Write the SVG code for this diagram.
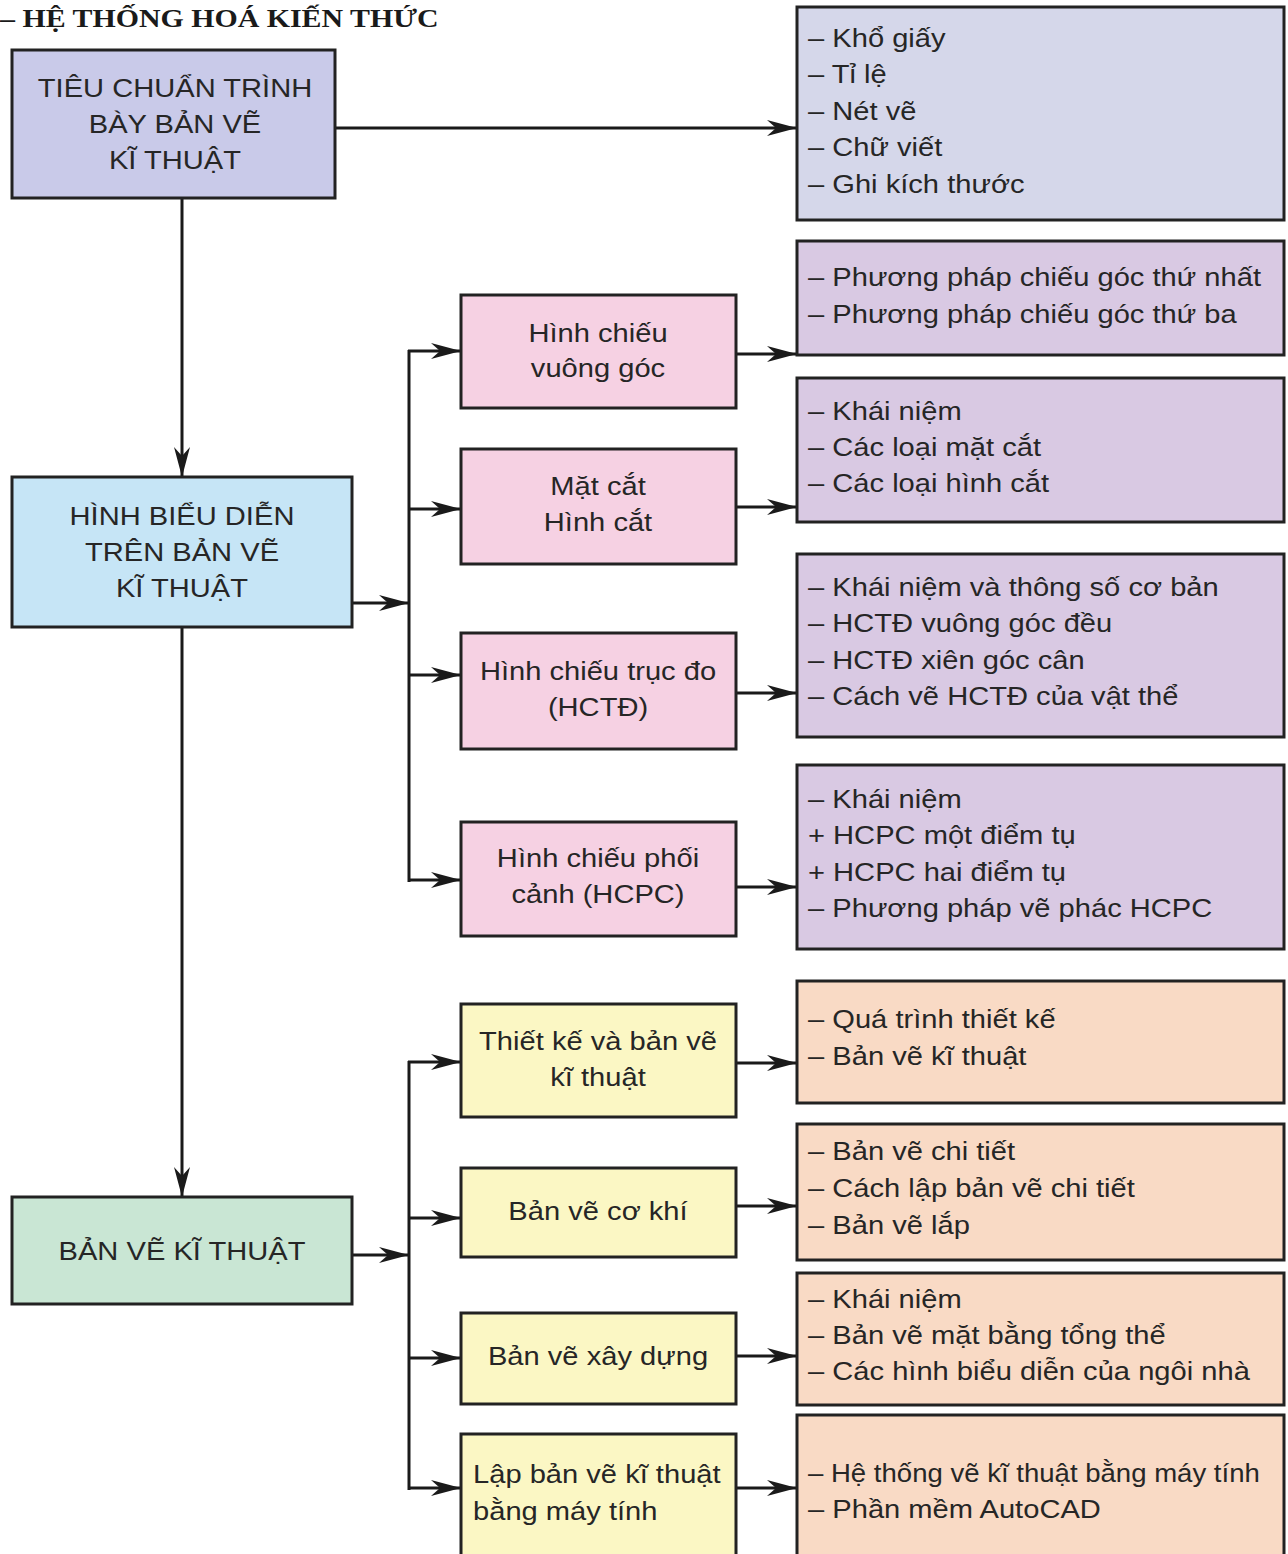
<svg xmlns="http://www.w3.org/2000/svg" width="1288" height="1554" viewBox="0 0 1288 1554">
<style>
.box{stroke:#222;stroke-width:3}
.t{font-family:"Liberation Sans",Arial,sans-serif;font-size:26px;fill:#262626}
.c{text-anchor:middle}
.hdr{font-family:"Liberation Serif","Times New Roman",serif;font-size:26px;font-weight:bold;fill:#1a1a1a}
.ln{stroke:#1a1a1a;stroke-width:3;fill:none}
.f1{fill:#c9cae9}.fr1{fill:#d5d7ea}.f2{fill:#c6e5f6}.f3{fill:#c9e6d4}
.pk{fill:#f6d1e3}.pu{fill:#d9c9e3}.ye{fill:#fbf7c4}.pe{fill:#f9dac5}
</style>
<defs>
<marker id="ah" markerUnits="userSpaceOnUse" markerWidth="32" markerHeight="18" refX="30" refY="9" orient="auto">
<path d="M0,1 L30,9 L0,17 L9,9 Z" fill="#1a1a1a"/>
</marker>
</defs>
<rect width="1288" height="1554" fill="#ffffff"/>
<text class="hdr" transform="translate(0 27) scale(1.15 1)">– HỆ THỐNG HOÁ KIẾN THỨC</text>

<g id="connectors">
<line class="ln" x1="335" y1="128" x2="797" y2="128" marker-end="url(#ah)"/>
<line class="ln" x1="182" y1="198" x2="182" y2="477" marker-end="url(#ah)"/>
<line class="ln" x1="182" y1="627" x2="182" y2="1197" marker-end="url(#ah)"/>
<line class="ln" x1="352" y1="603" x2="409" y2="603" marker-end="url(#ah)"/>
<line class="ln" x1="409" y1="350" x2="409" y2="882"/>
<line class="ln" x1="408" y1="351" x2="461" y2="351" marker-end="url(#ah)"/>
<line class="ln" x1="408" y1="509" x2="461" y2="509" marker-end="url(#ah)"/>
<line class="ln" x1="408" y1="675" x2="461" y2="675" marker-end="url(#ah)"/>
<line class="ln" x1="408" y1="880" x2="461" y2="880" marker-end="url(#ah)"/>
<line class="ln" x1="736" y1="354" x2="797" y2="354" marker-end="url(#ah)"/>
<line class="ln" x1="736" y1="507" x2="797" y2="507" marker-end="url(#ah)"/>
<line class="ln" x1="736" y1="693" x2="797" y2="693" marker-end="url(#ah)"/>
<line class="ln" x1="736" y1="887" x2="797" y2="887" marker-end="url(#ah)"/>
<line class="ln" x1="352" y1="1255" x2="409" y2="1255" marker-end="url(#ah)"/>
<line class="ln" x1="409" y1="1061" x2="409" y2="1490"/>
<line class="ln" x1="408" y1="1062" x2="461" y2="1062" marker-end="url(#ah)"/>
<line class="ln" x1="408" y1="1218" x2="461" y2="1218" marker-end="url(#ah)"/>
<line class="ln" x1="408" y1="1358" x2="461" y2="1358" marker-end="url(#ah)"/>
<line class="ln" x1="408" y1="1488" x2="461" y2="1488" marker-end="url(#ah)"/>
<line class="ln" x1="736" y1="1063" x2="797" y2="1063" marker-end="url(#ah)"/>
<line class="ln" x1="736" y1="1206" x2="797" y2="1206" marker-end="url(#ah)"/>
<line class="ln" x1="736" y1="1356" x2="797" y2="1356" marker-end="url(#ah)"/>
<line class="ln" x1="736" y1="1488" x2="797" y2="1488" marker-end="url(#ah)"/>
</g>

<g id="n-tieuchuan">
<rect class="box f1" x="12" y="50" width="323" height="148"/>
<text class="t c" transform="translate(175 97) scale(1.12 1)"><tspan x="0" y="0">TIÊU CHUẨN TRÌNH</tspan><tspan x="0" y="36">BÀY BẢN VẼ</tspan><tspan x="0" y="72">KĨ THUẬT</tspan></text>
</g>
<g id="n-hinhbieudien">
<rect class="box f2" x="12" y="477" width="340" height="150"/>
<text class="t c" transform="translate(182 525) scale(1.12 1)"><tspan x="0" y="0">HÌNH BIỂU DIỄN</tspan><tspan x="0" y="36">TRÊN BẢN VẼ</tspan><tspan x="0" y="72">KĨ THUẬT</tspan></text>
</g>
<g id="n-banve">
<rect class="box f3" x="12" y="1197" width="340" height="107"/>
<text class="t c" transform="translate(182 1260) scale(1.12 1)">BẢN VẼ KĨ THUẬT</text>
</g>

<g id="n-vuonggoc">
<rect class="box pk" x="461" y="295" width="275" height="113"/>
<text class="t c" transform="translate(598 342) scale(1.12 1)"><tspan x="0" y="0">Hình chiếu</tspan><tspan x="0" y="35">vuông góc</tspan></text>
</g>
<g id="n-matcat">
<rect class="box pk" x="461" y="449" width="275" height="115"/>
<text class="t c" transform="translate(598 495) scale(1.12 1)"><tspan x="0" y="0">Mặt cắt</tspan><tspan x="0" y="36">Hình cắt</tspan></text>
</g>
<g id="n-trucdo">
<rect class="box pk" x="461" y="633" width="275" height="116"/>
<text class="t c" transform="translate(598 680) scale(1.12 1)"><tspan x="0" y="0">Hình chiếu trục đo</tspan><tspan x="0" y="36">(HCTĐ)</tspan></text>
</g>
<g id="n-phoicanh">
<rect class="box pk" x="461" y="822" width="275" height="114"/>
<text class="t c" transform="translate(598 867) scale(1.12 1)"><tspan x="0" y="0">Hình chiếu phối</tspan><tspan x="0" y="36">cảnh (HCPC)</tspan></text>
</g>

<g id="n-thietke">
<rect class="box ye" x="461" y="1004" width="275" height="113"/>
<text class="t c" transform="translate(598 1050) scale(1.12 1)"><tspan x="0" y="0">Thiết kế và bản vẽ</tspan><tspan x="0" y="36">kĩ thuật</tspan></text>
</g>
<g id="n-cokhi">
<rect class="box ye" x="461" y="1168" width="275" height="89"/>
<text class="t c" transform="translate(598 1220) scale(1.12 1)">Bản vẽ cơ khí</text>
</g>
<g id="n-xaydung">
<rect class="box ye" x="461" y="1313" width="275" height="91"/>
<text class="t c" transform="translate(598 1365) scale(1.12 1)">Bản vẽ xây dựng</text>
</g>
<g id="n-maytinh">
<rect class="box ye" x="461" y="1434" width="275" height="140"/>
<text class="t" transform="translate(473 1483) scale(1.12 1)"><tspan x="0" y="0">Lập bản vẽ kĩ thuật</tspan><tspan x="0" y="37">bằng máy tính</tspan></text>
</g>

<g id="r-tieuchuan">
<rect class="box fr1" x="797" y="7" width="487" height="213"/>
<text class="t" transform="translate(808 47) scale(1.12 1)"><tspan x="0" y="0">– Khổ giấy</tspan><tspan x="0" y="36.5">– Tỉ lệ</tspan><tspan x="0" y="73">– Nét vẽ</tspan><tspan x="0" y="109.5">– Chữ viết</tspan><tspan x="0" y="146">– Ghi kích thước</tspan></text>
</g>
<g id="r-vuonggoc">
<rect class="box pu" x="797" y="241" width="487" height="114"/>
<text class="t" transform="translate(808 286) scale(1.12 1)"><tspan x="0" y="0">– Phương pháp chiếu góc thứ nhất</tspan><tspan x="0" y="37">– Phương pháp chiếu góc thứ ba</tspan></text>
</g>
<g id="r-matcat">
<rect class="box pu" x="797" y="378" width="487" height="144"/>
<text class="t" transform="translate(808 420) scale(1.12 1)"><tspan x="0" y="0">– Khái niệm</tspan><tspan x="0" y="36">– Các loại mặt cắt</tspan><tspan x="0" y="72">– Các loại hình cắt</tspan></text>
</g>
<g id="r-trucdo">
<rect class="box pu" x="797" y="554" width="487" height="183"/>
<text class="t" transform="translate(808 596) scale(1.12 1)"><tspan x="0" y="0">– Khái niệm và thông số cơ bản</tspan><tspan x="0" y="36.5">– HCTĐ vuông góc đều</tspan><tspan x="0" y="73">– HCTĐ xiên góc cân</tspan><tspan x="0" y="109.5">– Cách vẽ HCTĐ của vật thể</tspan></text>
</g>
<g id="r-phoicanh">
<rect class="box pu" x="797" y="765" width="487" height="184"/>
<text class="t" transform="translate(808 808) scale(1.12 1)"><tspan x="0" y="0">– Khái niệm</tspan><tspan x="0" y="36.5">+ HCPC một điểm tụ</tspan><tspan x="0" y="73">+ HCPC hai điểm tụ</tspan><tspan x="0" y="109.5">– Phương pháp vẽ phác HCPC</tspan></text>
</g>
<g id="r-thietke">
<rect class="box pe" x="797" y="981" width="487" height="122"/>
<text class="t" transform="translate(808 1028) scale(1.12 1)"><tspan x="0" y="0">– Quá trình thiết kế</tspan><tspan x="0" y="37">– Bản vẽ kĩ thuật</tspan></text>
</g>
<g id="r-cokhi">
<rect class="box pe" x="797" y="1124" width="487" height="136"/>
<text class="t" transform="translate(808 1160) scale(1.12 1)"><tspan x="0" y="0">– Bản vẽ chi tiết</tspan><tspan x="0" y="37">– Cách lập bản vẽ chi tiết</tspan><tspan x="0" y="74">– Bản vẽ lắp</tspan></text>
</g>
<g id="r-xaydung">
<rect class="box pe" x="797" y="1273" width="487" height="132"/>
<text class="t" transform="translate(808 1308) scale(1.12 1)"><tspan x="0" y="0">– Khái niệm</tspan><tspan x="0" y="36">– Bản vẽ mặt bằng tổng thể</tspan><tspan x="0" y="72">– Các hình biểu diễn của ngôi nhà</tspan></text>
</g>
<g id="r-maytinh">
<rect class="box pe" x="797" y="1415" width="487" height="160"/>
<text class="t" transform="translate(808 1482) scale(1.06 1)">– Hệ thống vẽ kĩ thuật bằng máy tính</text>
<text class="t" transform="translate(808 1518) scale(1.12 1)">– Phần mềm AutoCAD</text>
</g>
</svg>
